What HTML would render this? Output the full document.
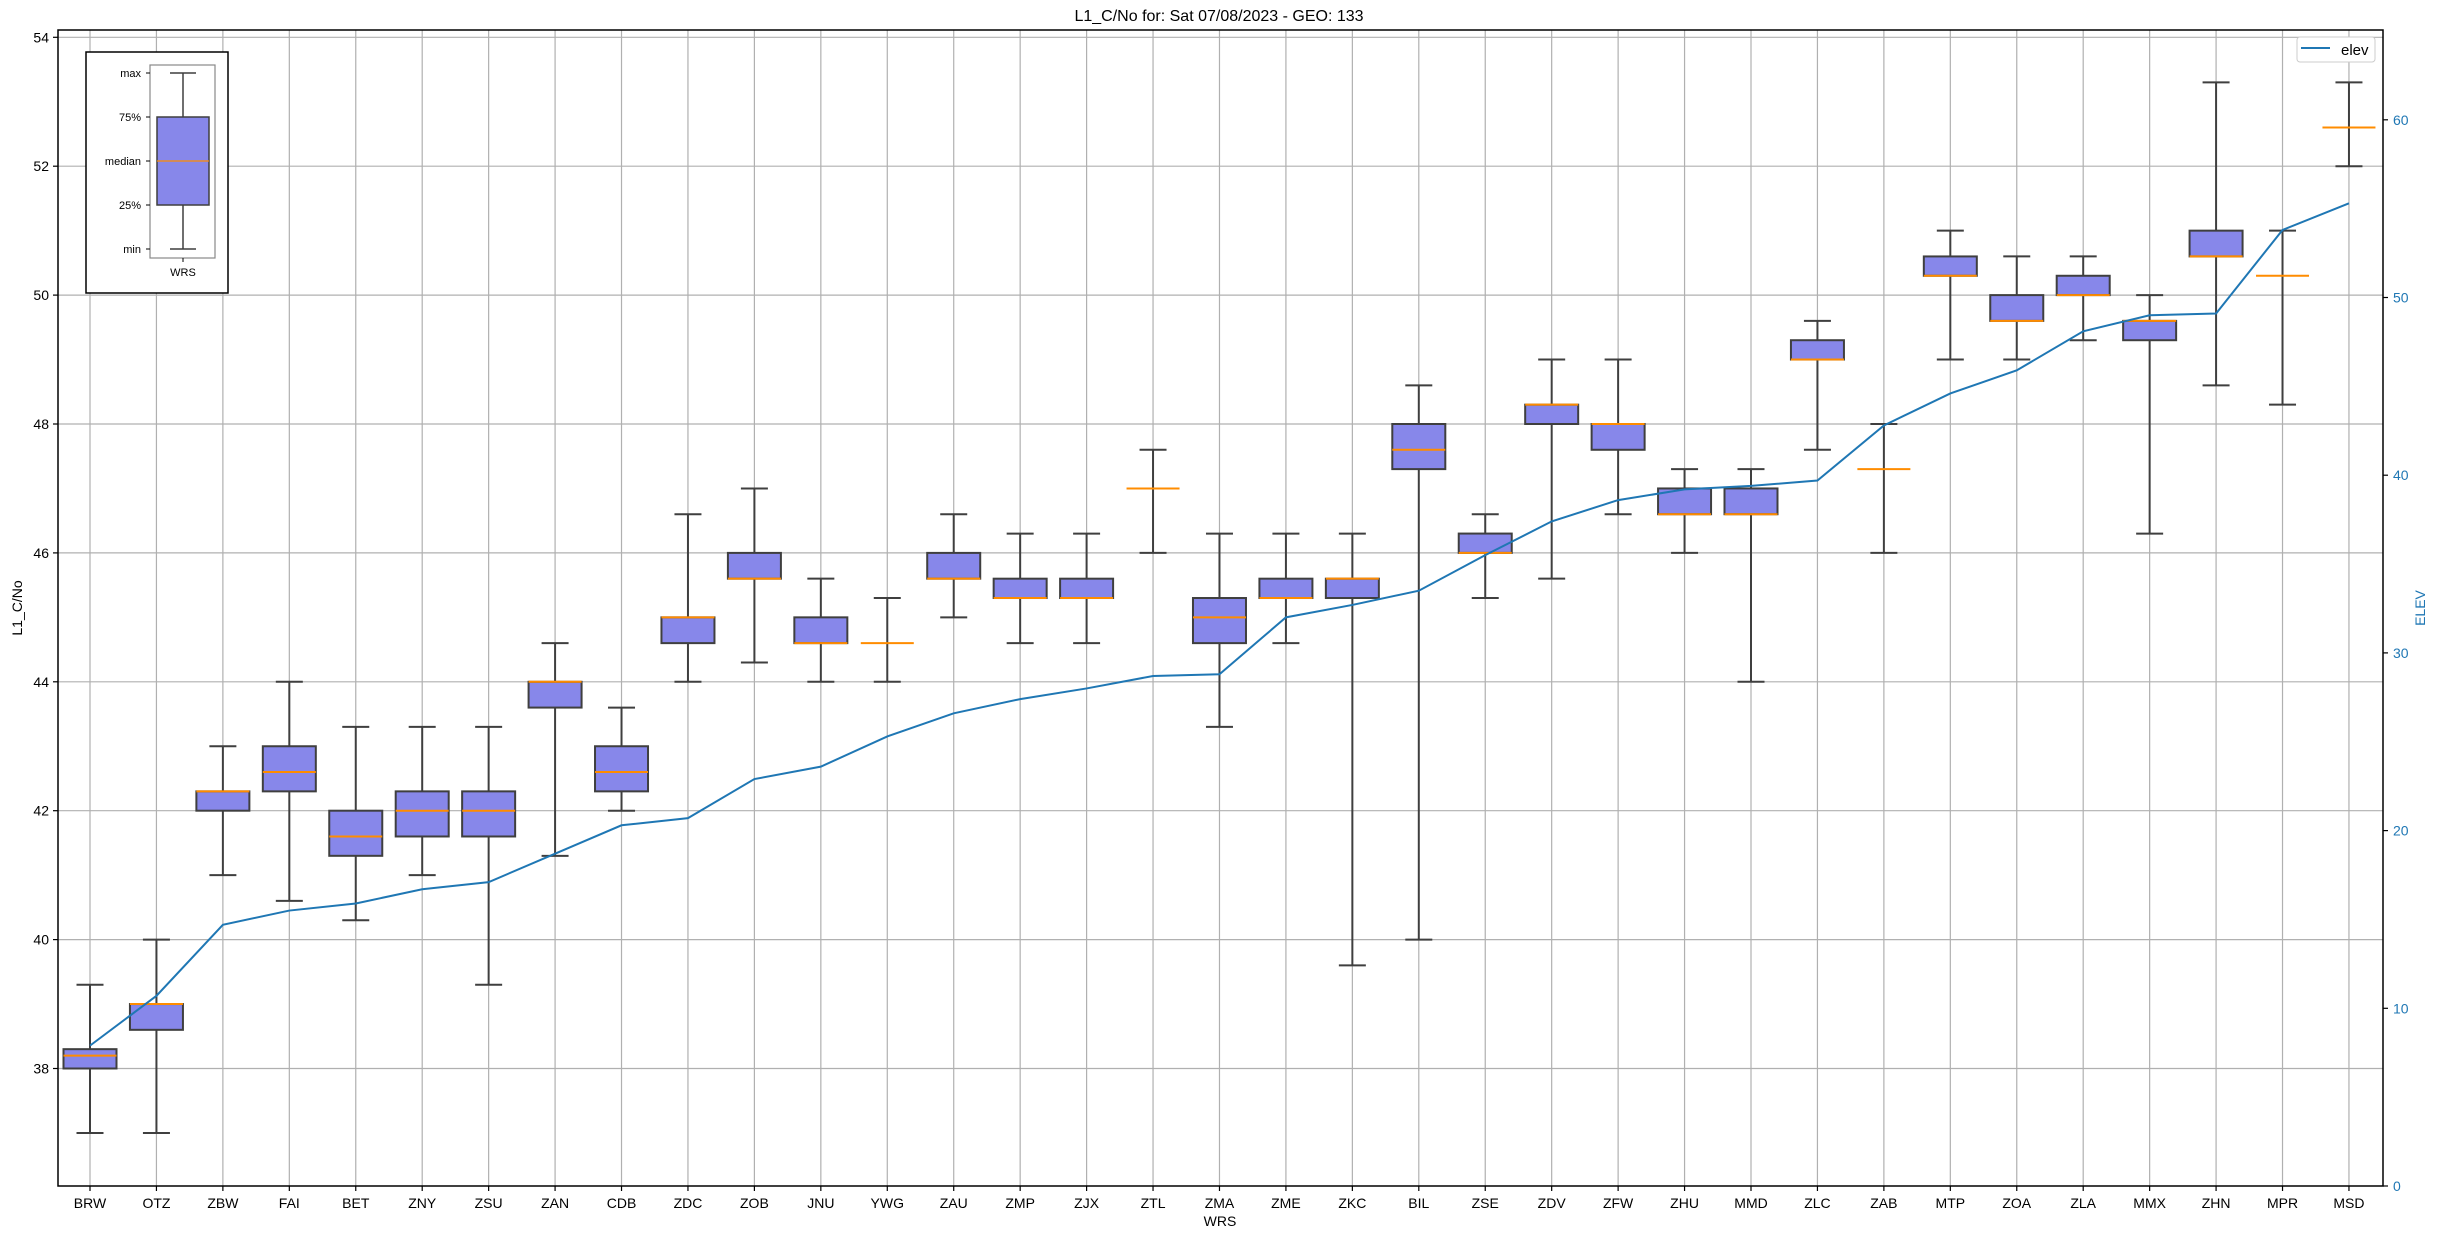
<!DOCTYPE html>
<html><head><meta charset="utf-8"><style>
body{margin:0;background:#fff}
svg{display:block;font-family:"Liberation Sans","DejaVu Sans",sans-serif}
</style></head><body>
<svg id="s" width="2439" height="1238" xmlns="http://www.w3.org/2000/svg"></svg>
<script>
const S=document.getElementById('s');
let h='';
const L=58,R=2383,T=30,B=1186;
const yv=v=>37.3+(54-v)*64.45;
const ye=v=>1186-v*17.77;
const xc=i=>90+i*66.44;
const names="BRW OTZ ZBW FAI BET ZNY ZSU ZAN CDB ZDC ZOB JNU YWG ZAU ZMP ZJX ZTL ZMA ZME ZKC BIL ZSE ZDV ZFW ZHU MMD ZLC ZAB MTP ZOA ZLA MMX ZHN MPR MSD".split(' ');
const D=[[39.3,38.3,38.2,38.0,37.0],[40,39,39,38.6,37],[43,42.3,42.3,42,41],[44,43,42.6,42.3,40.6],[43.3,42,41.6,41.3,40.3],
[43.3,42.3,42,41.6,41],[43.3,42.3,42,41.6,39.3],[44.6,44,44,43.6,41.3],[43.6,43,42.6,42.3,42],[46.6,45,45,44.6,44],
[47,46,45.6,45.6,44.3],[45.6,45,44.6,44.6,44],[45.3,44.6,44.6,44.6,44],[46.6,46,45.6,45.6,45],[46.3,45.6,45.3,45.3,44.6],
[46.3,45.6,45.3,45.3,44.6],[47.6,47,47,47,46],[46.3,45.3,45,44.6,43.3],[46.3,45.6,45.3,45.3,44.6],[46.3,45.6,45.6,45.3,39.6],
[48.6,48,47.6,47.3,40],[46.6,46.3,46,46,45.3],[49,48.3,48.3,48,45.6],[49,48,48,47.6,46.6],[47.3,47,46.6,46.6,46],
[47.3,47,46.6,46.6,44],[49.6,49.3,49,49,47.6],[48,47.3,47.3,47.3,46],[51,50.6,50.3,50.3,49],[50.6,50,49.6,49.6,49],
[50.6,50.3,50,50,49.3],[50,49.6,49.6,49.3,46.3],[53.3,51,50.6,50.6,48.6],[51,50.3,50.3,50.3,48.3],[53.3,52.6,52.6,52.6,52]];
const E=[7.9,10.7,14.7,15.5,15.9,16.7,17.1,18.7,20.3,20.7,22.9,23.6,25.3,26.6,27.4,28.0,28.7,28.8,32.0,32.7,33.5,35.5,37.4,38.6,39.2,39.4,39.7,42.8,44.6,45.9,48.1,49.0,49.1,53.8,55.3];
for(let v=38;v<=54;v+=2){const y=yv(v);h+=`<line x1="${L}" x2="${R}" y1="${y}" y2="${y}" stroke="#b0b0b0" stroke-width="1.2"/>`;
h+=`<line x1="${L-5}" x2="${L}" y1="${y}" y2="${y}" stroke="#000" stroke-width="1.2"/><text x="${L-9}" y="${y+5}" font-size="14" text-anchor="end">${v}</text>`;}
names.forEach((n,i)=>{const x=xc(i);h+=`<line x1="${x}" x2="${x}" y1="${T}" y2="${B}" stroke="#b0b0b0" stroke-width="1.2"/>`;
h+=`<line x1="${x}" x2="${x}" y1="${B}" y2="${B+5}" stroke="#000" stroke-width="1.2"/><text x="${x}" y="${B+22}" font-size="14" text-anchor="middle">${n}</text>`;});
D.forEach((d,i)=>{const x=xc(i),w=26.5,c=13.5;const [mx,q3,md,q1,mn]=d.map(yv);
h+=`<g stroke="#3f3f3f" stroke-width="2"><line x1="${x}" x2="${x}" y1="${mx}" y2="${q3}"/><line x1="${x}" x2="${x}" y1="${q1}" y2="${mn}"/>
<line x1="${x-c}" x2="${x+c}" y1="${mx}" y2="${mx}"/><line x1="${x-c}" x2="${x+c}" y1="${mn}" y2="${mn}"/>
<rect x="${x-w}" y="${q3}" width="${2*w}" height="${q1-q3}" fill="#8787ea"/></g>
<line x1="${x-w}" x2="${x+w}" y1="${md}" y2="${md}" stroke="#ff8c00" stroke-width="2"/>`;});
h+=`<polyline fill="none" stroke="#1f77b4" stroke-width="2" points="${E.map((e,i)=>xc(i)+','+ye(e)).join(' ')}"/>`;
h+=`<rect x="${L}" y="${T}" width="${R-L}" height="${B-T}" fill="none" stroke="#000" stroke-width="1.5"/>`;
for(let v=0;v<=60;v+=10){const y=ye(v);h+=`<line x1="${R}" x2="${R+5}" y1="${y}" y2="${y}" stroke="#000" stroke-width="1.2"/><text x="${R+10}" y="${y+5}" font-size="14" fill="#1f77b4">${v}</text>`;}
h+=`<text x="1219" y="21" font-size="16" text-anchor="middle">L1_C/No for: Sat 07/08/2023 - GEO: 133</text>`;
h+=`<text x="1220" y="1226" font-size="14" text-anchor="middle">WRS</text>`;
h+=`<text transform="translate(22,608) rotate(-90)" font-size="14" text-anchor="middle">L1_C/No</text>`;
h+=`<text transform="translate(2425,608) rotate(-90)" font-size="14" text-anchor="middle" fill="#1f77b4">ELEV</text>`;
h+=`<rect x="2297" y="37" width="78" height="25" rx="3" fill="#fff" stroke="#ccc" stroke-width="1"/><line x1="2301" x2="2330" y1="48" y2="48" stroke="#1f77b4" stroke-width="2"/><text x="2341" y="55" font-size="15">elev</text>`;
h+=`<rect x="86" y="52" width="142" height="241" fill="#fff" stroke="#000" stroke-width="1.5"/>`;
h+=`<rect x="150" y="65" width="65" height="193" fill="#fff" stroke="#888" stroke-width="1.2"/>`;
h+=`<g stroke="#3f3f3f" stroke-width="1.5"><line x1="183" x2="183" y1="73" y2="117"/><line x1="183" x2="183" y1="205" y2="249"/><line x1="170" x2="196" y1="73" y2="73"/><line x1="170" x2="196" y1="249" y2="249"/><rect x="157" y="117" width="52" height="88" fill="#8787ea"/></g><line x1="157" x2="209" y1="161" y2="161" stroke="#ff8c00" stroke-width="1.2"/>`;
[["max",73],["75%",117],["median",161],["25%",205],["min",249]].forEach(([t,y])=>{h+=`<line x1="146" x2="150" y1="${y}" y2="${y}" stroke="#000"/><text x="141" y="${y+4}" font-size="11" text-anchor="end">${t}</text>`;});
h+=`<line x1="183" x2="183" y1="258" y2="262" stroke="#000"/><text x="183" y="276" font-size="11" text-anchor="middle">WRS</text>`;
S.innerHTML=h;
</script>
</body></html>
